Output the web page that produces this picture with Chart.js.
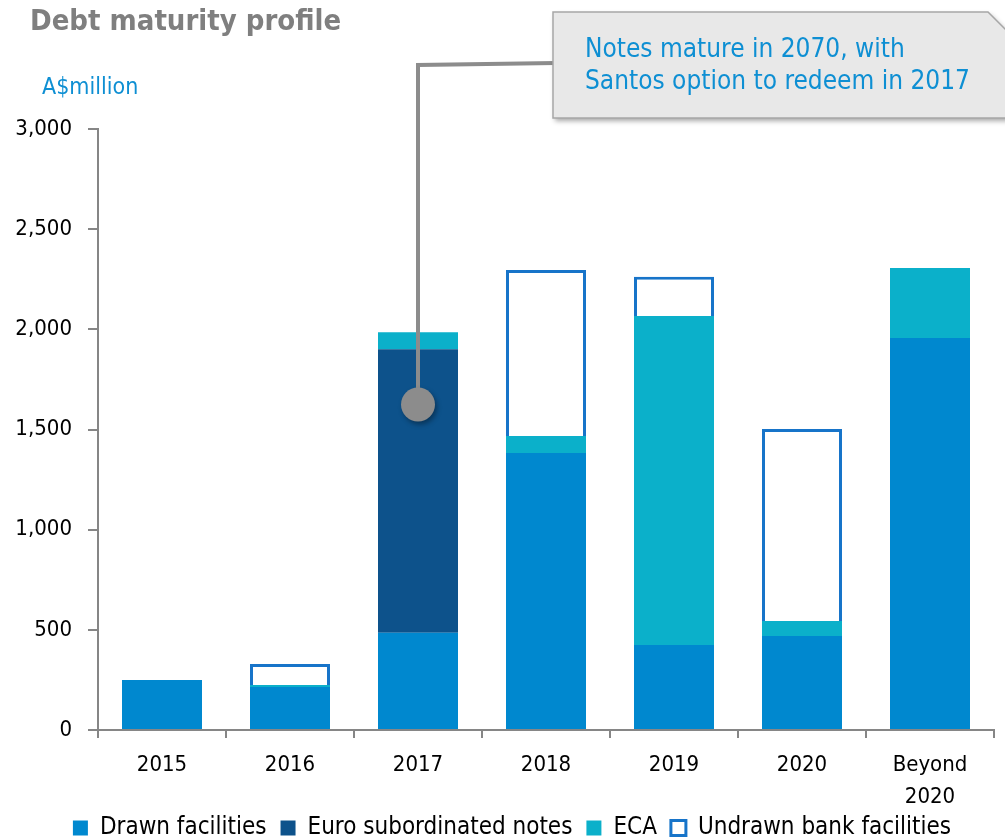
<!DOCTYPE html>
<html>
<head>
<meta charset="utf-8">
<script src="https://cdn.jsdelivr.net/npm/chart.js@4/dist/chart.umd.min.js"></script>
<style>
  html, body { margin: 0; padding: 0; background: #fff; }
  #wrap { width: 1005px; height: 839px; }
</style>
</head>
<body>
<div id="wrap"><canvas id="debtChart"></canvas></div>
<script>
// values, A$million
const categories = ["2015", "2016", "2017", "2018", "2019", "2020", ["Beyond", "2020"]];
const drawnFacilities = [250, 215, 485, 1383, 424, 469, 1957];
const euroNotes = [0, 0, 1415, 0, 0, 0, 0];
const ecaValues = [0, 10, 85, 85, 1643, 75, 349];
const undrawnFacilities = [0, 105, 0, 828, 195, 959, 0];
const yTicks = [0, 500, 1000, 1500, 2000, 2500, 3000];

const calloutLines = ["Notes mature in 2070, with", "Santos option to redeem in 2017"];
const calloutAnchor = { index: 2, value: 1625 };

const FONT = "'DejaVu Sans Condensed', 'DejaVu Sans', sans-serif";

// title, unit label and the callout are drawn on top of the chart
const overlayPlugin = {
  id: "overlay",
  afterDraw(chart) {
    const ctx = chart.ctx;
    const x = chart.scales.x;
    const y = chart.scales.y;
    ctx.save();

    ctx.fillStyle = "#7f7f7f";
    ctx.font = "bold 29px " + FONT;
    ctx.textBaseline = "middle";
    ctx.fillText("Debt maturity profile", 30, 22);

    ctx.fillStyle = "#0E8FD3";
    ctx.font = "23px " + FONT;
    ctx.fillText("A$million", 42, 88);

    // connector from the 2017 bar to the callout box
    const ax = x.getPixelForValue(calloutAnchor.index);
    const ay = y.getPixelForValue(calloutAnchor.value);
    ctx.strokeStyle = "#8c8c8c";
    ctx.lineWidth = 4;
    ctx.beginPath();
    ctx.moveTo(ax, ay);
    ctx.lineTo(ax, 65);
    ctx.lineTo(556, 63);
    ctx.stroke();

    ctx.shadowColor = "rgba(0,0,0,0.35)";
    ctx.shadowBlur = 5;
    ctx.shadowOffsetX = 2;
    ctx.shadowOffsetY = 3;
    ctx.fillStyle = "#8c8c8c";
    ctx.beginPath();
    ctx.arc(ax, ay, 17, 0, Math.PI * 2);
    ctx.fill();

    // callout box with cut top-right corner
    ctx.fillStyle = "#e8e8e8";
    ctx.beginPath();
    ctx.moveTo(553, 12);
    ctx.lineTo(988, 12);
    ctx.lineTo(1010, 34);
    ctx.lineTo(1010, 118);
    ctx.lineTo(553, 118);
    ctx.closePath();
    ctx.fill();
    ctx.shadowColor = "transparent";
    ctx.strokeStyle = "#a6a6a6";
    ctx.lineWidth = 1.5;
    ctx.stroke();

    ctx.fillStyle = "#0E8FD3";
    ctx.font = "26px " + FONT;
    calloutLines.forEach((line, i) => ctx.fillText(line, 585, 50 + i * 32));

    ctx.restore();
  }
};

// legend keeps wide gaps between items but only takes a short strip at the bottom
const LEGEND_PAD = 14;
const legendStripPlugin = {
  id: "legendStrip",
  beforeUpdate(chart) {
    const legend = chart.legend;
    if (!legend || legend._stripPatched) return;
    const fit = legend.fit;
    legend.fit = function () {
      fit.call(this);
      this.height = 22;
    };
    legend._stripPatched = true;
  },
  afterLayout(chart) {
    const legend = chart.legend;
    legend.top = 828 - LEGEND_PAD - 12;
    legend.bottom = chart.height;
    legend.height = legend.bottom - legend.top;
    legend.left += 15;
    legend.right += 15;
  }
};

const ctx = document.getElementById("debtChart").getContext("2d");
new Chart(ctx, {
  type: "bar",
  data: {
    labels: categories,
    datasets: [
      {
        label: "Drawn facilities",
        data: drawnFacilities,
        backgroundColor: "#0088CF",
        borderWidth: 0,
      },
      {
        label: "Euro subordinated notes",
        data: euroNotes,
        backgroundColor: "#0D528B",
        borderWidth: 0,
      },
      {
        label: "ECA",
        data: ecaValues,
        backgroundColor: "#0BB0CA",
        borderWidth: 0,
      },
      {
        label: "Undrawn bank facilities",
        data: undrawnFacilities,
        backgroundColor: "#ffffff",
        borderColor: "#1774C9",
        borderWidth: 3,
      },
    ],
  },
  options: {
    responsive: true,
    maintainAspectRatio: false,
    animation: false,
    datasets: { bar: { categoryPercentage: 0.625, barPercentage: 1 } },
    layout: { padding: { top: 129, right: 11, left: 0, bottom: 0 } },
    scales: {
      x: {
        stacked: true,
        afterFit(axis) {
          axis.height = 87;
        },
        border: { color: "#868686", width: 2 },
        grid: { drawOnChartArea: false, drawTicks: true, tickLength: 8, color: "#868686", lineWidth: 2 },
        ticks: { color: "#000", font: { family: FONT, size: 22, lineHeight: 1.45 }, padding: 11 },
      },
      y: {
        stacked: true,
        min: 0,
        max: 3000,
        afterBuildTicks(axis) {
          axis.ticks = yTicks.map((v) => ({ value: v }));
        },
        afterFit(axis) {
          axis.width = 98;
        },
        border: { color: "#868686", width: 2 },
        grid: { drawOnChartArea: false, drawTicks: true, tickLength: 10, color: "#868686", lineWidth: 2 },
        ticks: { color: "#000", font: { family: FONT, size: 22 }, padding: 16 },
      },
    },
    plugins: {
      legend: {
        position: "bottom",
        labels: {
          color: "#000",
          font: { family: FONT, size: 24 },
          boxWidth: 15,
          boxHeight: 15,
          padding: LEGEND_PAD,
        },
      },
      tooltip: { enabled: false },
    },
  },
  plugins: [overlayPlugin, legendStripPlugin],
});
</script>
</body>
</html>
